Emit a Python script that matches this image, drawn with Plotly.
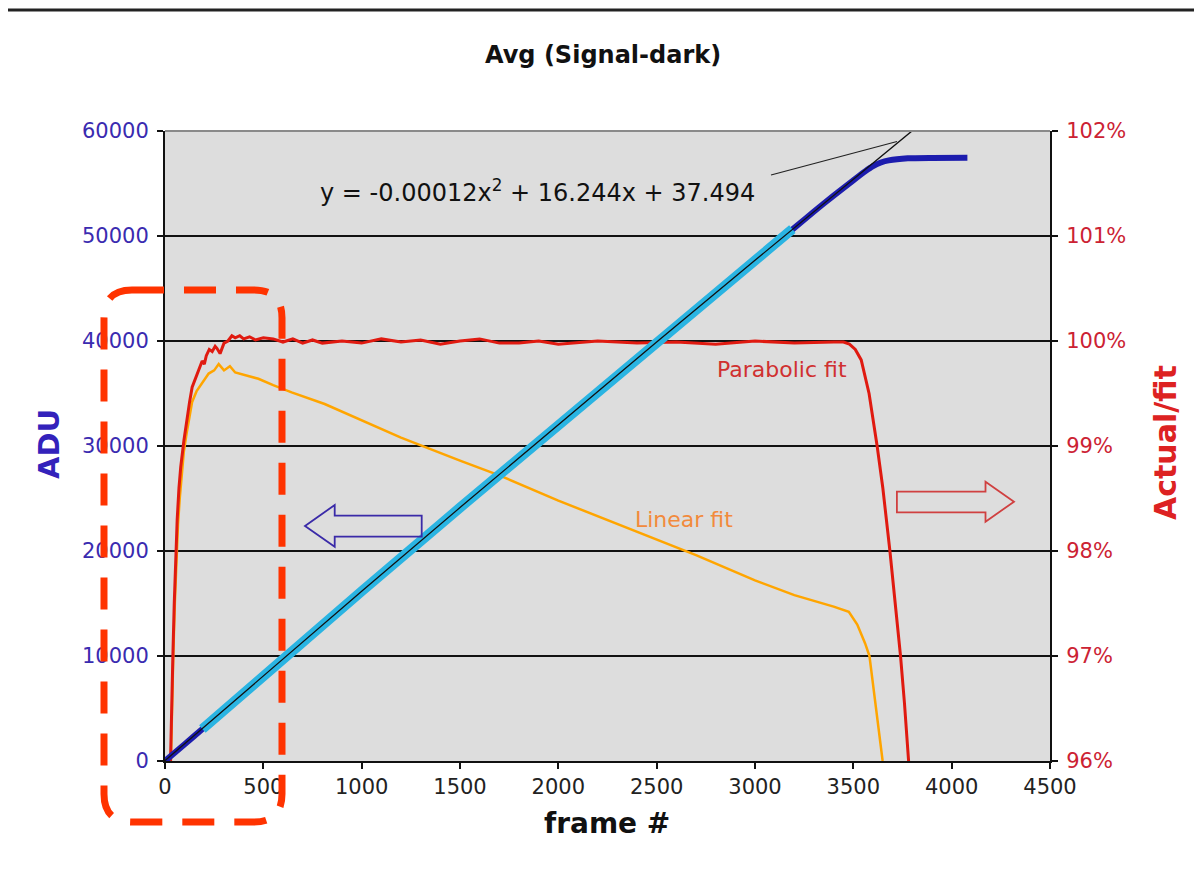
import plotly.graph_objects as go

# ---------------- data ----------------
adu_frame = [0, 100, 190, 500, 1000, 1500, 2000, 2500, 3000, 3200, 3300, 3400,
             3500, 3560, 3600, 3640, 3680, 3777, 3900, 4080]
adu_val = [0, 1600, 3050, 8130, 16160, 24130, 32050, 39900, 47690, 50770, 52330,
           53850, 55300, 56150, 56650, 57000, 57200, 57400, 57440, 57450]

fit_frame = [190, 500, 1000, 1500, 2000, 2500, 3000, 3190]
fit_adu = [3050, 8130, 16160, 24130, 32050, 39900, 47690, 50650]

trend_frame = [0, 500, 1000, 1500, 2000, 2500, 3000, 3200, 3400, 3500, 3600, 3700, 3800]
trend_adu = [37, 8129, 16161, 24133, 32045, 39897, 47689, 50774, 53880, 55427,
             56960, 58497, 60032]

parab_frame = [28, 34, 40, 47, 54, 62, 71, 80, 96, 110, 125, 138, 160, 175, 189,
               200, 210, 225, 240, 255, 264, 280, 300, 320, 340, 357, 380, 400,
               430, 460, 500, 550, 600, 650, 700, 750, 800, 900, 1000, 1100, 1200,
               1300, 1400, 1500, 1600, 1700, 1800, 1900, 2000, 2200, 2400, 2600,
               2800, 3000, 3200, 3400, 3450, 3480, 3510, 3540, 3580, 3621, 3650,
               3686, 3710, 3740, 3760, 3781]
parab_pct = [96.0, 96.6, 97.0, 97.5, 98.0, 98.3, 98.6, 98.8, 99.05, 99.25, 99.42,
             99.56, 99.66, 99.74, 99.81, 99.78, 99.86, 99.92, 99.9, 99.95, 99.93,
             99.88, 99.98, 100.0, 100.05, 100.03, 100.05, 100.02, 100.04, 100.01,
             100.03, 100.02, 99.99, 100.02, 99.98, 100.01, 99.98, 100.0, 99.98,
             100.02, 99.99, 100.01, 99.97, 100.0, 100.02, 99.98, 99.98, 100.0,
             99.97, 100.0, 99.98, 99.99, 99.97, 100.0, 99.98, 99.99, 99.99, 99.97,
             99.92, 99.82, 99.5, 99.0, 98.6, 98.0, 97.55, 97.0, 96.55, 96.0]

linear_frame = [30, 36, 42, 50, 58, 66, 75, 85, 96, 110, 125, 138, 160, 190, 222,
                250, 273, 300, 330, 357, 400, 475, 550, 644, 812, 981, 1200, 1500,
                1700, 2000, 2300, 2500, 2700, 3000, 3200, 3400, 3477, 3520, 3560,
                3582, 3610, 3630, 3649]
linear_pct = [96.0, 96.6, 97.0, 97.5, 97.95, 98.25, 98.5, 98.7, 98.95, 99.12, 99.3,
              99.42, 99.52, 99.6, 99.69, 99.72, 99.78, 99.72, 99.76, 99.7, 99.68,
              99.64, 99.58, 99.51, 99.4, 99.26, 99.08, 98.86, 98.72, 98.48, 98.26,
              98.11, 97.96, 97.72, 97.58, 97.47, 97.42, 97.3, 97.12, 97.0, 96.6,
              96.3, 96.0]

x_ticks = [0, 500, 1000, 1500, 2000, 2500, 3000, 3500, 4000, 4500]
adu_ticks = [0, 10000, 20000, 30000, 40000, 50000, 60000]
adu_labels = ["0", "10000", "20000", "30000", "40000", "50000", "60000"]
pct_ticks = [96, 97, 98, 99, 100, 101, 102]
pct_labels = ["96%", "97%", "98%", "99%", "100%", "101%", "102%"]

# ---------------- layout geometry ----------------
W, H = 1194, 882
L, R, T, B = 165, 144, 131, 121
PW, PH = W - L - R, H - T - B


def px(x):
    return (x - L) / PW


def py(y):
    return (H - B - y) / PH


FONT = "DejaVu Sans, Verdana, sans-serif"
BLUE_TXT = "#3a2bb0"
RED_TXT = "#cc2233"

fig = go.Figure()

# ratio series on base axis (right side)
fig.add_trace(go.Scatter(x=linear_frame, y=linear_pct, mode="lines",
                         line=dict(color="#ffa500", width=2.5), yaxis="y",
                         hoverinfo="skip"))
fig.add_trace(go.Scatter(x=parab_frame, y=parab_pct, mode="lines",
                         line=dict(color="#e01a10", width=3), yaxis="y",
                         hoverinfo="skip"))
# ADU series on overlaying axis (left side)
fig.add_trace(go.Scatter(x=adu_frame, y=adu_val, mode="lines",
                         line=dict(color="#1c1cae", width=6, shape="spline",
                                   smoothing=0.6), yaxis="y2",
                         hoverinfo="skip"))
fig.add_trace(go.Scatter(x=fit_frame, y=fit_adu, mode="lines",
                         line=dict(color="#2ab4e2", width=10), yaxis="y2",
                         hoverinfo="skip"))
fig.add_trace(go.Scatter(x=trend_frame, y=trend_adu, mode="lines",
                         line=dict(color="#111111", width=1.3), yaxis="y2",
                         hoverinfo="skip"))

tickfont = dict(family=FONT, size=21)

fig.update_layout(
    width=W, height=H,
    margin=dict(l=L, r=R, t=T, b=B, pad=0),
    paper_bgcolor="white",
    plot_bgcolor="#dddddd",
    showlegend=False,
    xaxis=dict(range=[0, 4500], tickvals=x_ticks, ticks="outside", ticklen=6,
               tickwidth=2, tickcolor="#111", showline=True, linecolor="#111",
               linewidth=2, showgrid=False, zeroline=False,
               tickfont=dict(tickfont, color="#222")),
    yaxis=dict(range=[96, 102], tickvals=pct_ticks, ticktext=pct_labels,
               side="right", ticks="outside", ticklen=6, tickwidth=2,
               tickcolor="#111", showline=True, linecolor="#111", linewidth=2,
               showgrid=True, gridcolor="#111", gridwidth=1.5, zeroline=False,
               ticklabelstandoff=4,
               tickfont=dict(tickfont, color=RED_TXT)),
    yaxis2=dict(range=[0, 60000], tickvals=adu_ticks, ticktext=adu_labels,
                side="left", overlaying="y", ticks="outside", ticklen=6,
                tickwidth=2, tickcolor="#111", showline=True, linecolor="#111",
                linewidth=2, showgrid=False, zeroline=False,
                ticklabelstandoff=4,
                tickfont=dict(tickfont, color=BLUE_TXT)),
)

ann = []
ann.append(dict(text="<b>Avg (Signal-dark)</b>", x=px(603), y=py(55),
                font=dict(family=FONT, size=24, color="#111")))
ann.append(dict(text="<b>frame #</b>", x=px(607), y=py(823),
                font=dict(family=FONT, size=28, color="#111")))
ann.append(dict(text="<b>ADU</b>", x=px(49), y=py(444), textangle=-90,
                font=dict(family=FONT, size=29, color="#3322bb")))
ann.append(dict(text="<b>Actual/fit</b>", x=px(1165), y=py(443), textangle=-90,
                font=dict(family=FONT, size=30, color="#dd2222")))
ann.append(dict(text="y = -0.00012x<sup>2</sup> + 16.244x + 37.494",
                x=px(537), y=py(191),
                font=dict(family=FONT, size=24, color="#111")))
ann.append(dict(text="Parabolic fit", x=px(782), y=py(369),
                font=dict(family=FONT, size=22, color="#d03030")))
ann.append(dict(text="Linear fit", x=px(684), y=py(519),
                font=dict(family=FONT, size=22, color="#f28a3c")))
for a in ann:
    a.update(xref="paper", yref="paper", showarrow=False,
             xanchor="center", yanchor="middle")
fig.update_layout(annotations=ann)


def path(points, close=True):
    s = "M " + " L ".join(f"{px(x):.5f},{py(y):.5f}" for x, y in points)
    return s + (" Z" if close else "")


shapes = []
# page rule at top
shapes.append(dict(type="line", xref="paper", yref="paper", x0=px(8), x1=px(1194),
                   y0=py(10), y1=py(10), line=dict(color="#222", width=3)))
# grey top frame of plot area
shapes.append(dict(type="line", xref="paper", yref="paper", x0=0, x1=1, y0=1, y1=1,
                   line=dict(color="#8a8a8a", width=2), layer="above"))
# leader line from equation to trendline
shapes.append(dict(type="line", xref="paper", yref="paper", x0=px(771), y0=py(175),
                   x1=px(897), y1=py(141.5), line=dict(color="#222", width=1.2)))
# blue left arrow
shapes.append(dict(type="path", xref="paper", yref="paper",
                   path=path([(305, 526), (334.7, 505), (334.7, 515.7), (421.7, 515.7),
                              (421.7, 536.7), (334.7, 536.7), (334.7, 546.7)]),
                   line=dict(color="#3a2aa8", width=1.8), fillcolor="rgba(0,0,0,0)"))
# red right arrow
shapes.append(dict(type="path", xref="paper", yref="paper",
                   path=path([(896.9, 491.7), (985.5, 491.7), (985.5, 481.7), (1014, 501.7),
                              (985.5, 521.7), (985.5, 512.3), (896.9, 512.3)]),
                   line=dict(color="#d04040", width=1.8), fillcolor="rgba(0,0,0,0)"))
# dashed rounded highlight box
x0b, x1b, y0b, y1b, rr = 104, 282, 290, 822, 28


def P(x, y):
    return f"{px(x):.5f},{py(y):.5f}"


box = (f"M {P(x0b + rr, y0b)} L {P(x1b - rr, y0b)} Q {P(x1b, y0b)} {P(x1b, y0b + rr)} "
       f"L {P(x1b, y1b - rr)} Q {P(x1b, y1b)} {P(x1b - rr, y1b)} "
       f"L {P(x0b + rr, y1b)} Q {P(x0b, y1b)} {P(x0b, y1b - rr)} "
       f"L {P(x0b, y0b + rr)} Q {P(x0b, y0b)} {P(x0b + rr, y0b)} Z")
shapes.append(dict(type="path", xref="paper", yref="paper", path=box,
                   line=dict(color="#ff3300", width=7, dash="32px,20px"),
                   fillcolor="rgba(0,0,0,0)", layer="above"))
fig.update_layout(shapes=shapes)

fig.write_html("out.html")
